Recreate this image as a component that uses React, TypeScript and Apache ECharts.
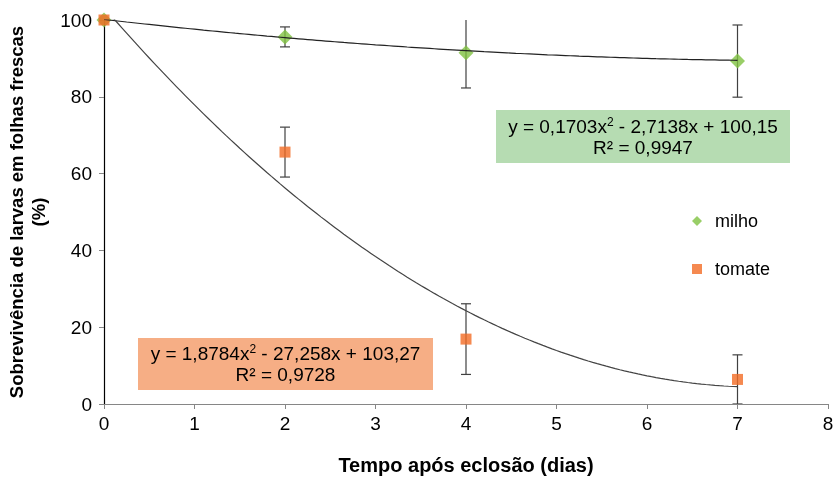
import React, { useEffect, useRef } from "react";
import * as echarts from "echarts";

const xDays = [0, 2, 4, 7];
const milhoMean = [100, 95.6, 91.5, 89.3];
const milhoErr = [0, 2.6, 9.2, 9.4];
const tomateMean = [100, 65.6, 16.9, 6.4];
const tomateErr = [0, 6.5, 9.2, 6.4];
// regression coefficients as printed in the chart: a*x^2 + b*x + c
const milhoCoef = [0.1703, -2.7138, 100.15];
const tomateCoef = [1.8784, -27.258, 103.27];
const xTicks = [0, 1, 2, 3, 4, 5, 6, 7, 8];
const yTicks = [0, 20, 40, 60, 80, 100];

const FONT = "Liberation Sans, Arial, sans-serif";

function trend(coef: number[]) {
  const pts: number[][] = [];
  for (let i = 0; i <= 140; i++) {
    const x = (i * 7) / 140;
    pts.push([x, coef[0] * x * x + coef[1] * x + coef[2]]);
  }
  return pts;
}

function errorSeries(name: string, mean: number[], err: number[]) {
  return {
    name,
    type: "custom",
    clip: true,
    z: 1,
    data: xDays.map((x, i) => [x, mean[i] - err[i], mean[i] + err[i]]),
    renderItem: (params: any, api: any) => {
      const x = api.value(0);
      const lo = api.coord([x, api.value(1)]);
      const hi = api.coord([x, api.value(2)]);
      if (api.value(2) - api.value(1) === 0) return { type: "group", children: [] };
      const w = 5;
      const style = { stroke: "#404040", lineWidth: 1.2 };
      return {
        type: "group",
        children: [
          { type: "line", shape: { x1: lo[0], y1: lo[1], x2: hi[0], y2: hi[1] }, style },
          { type: "line", shape: { x1: lo[0] - w, y1: lo[1], x2: lo[0] + w, y2: lo[1] }, style },
          { type: "line", shape: { x1: hi[0] - w, y1: hi[1], x2: hi[0] + w, y2: hi[1] }, style },
        ],
      };
    },
  };
}

export default function App() {
  const ref = useRef<HTMLDivElement>(null);
  useEffect(() => {
    if (!ref.current) return;
    const chart = echarts.init(ref.current, undefined, { renderer: "svg" });
    const rich = {
      a: { fontSize: 19, fontFamily: FONT, color: "#1a1a1a", lineHeight: 21 },
      s: { fontSize: 12, fontFamily: FONT, color: "#1a1a1a", lineHeight: 21, verticalAlign: "top" },
    };
    chart.setOption({
      animation: false,
      textStyle: { fontFamily: FONT },
      grid: { left: 104, right: 5, top: 20, bottom: 73, containLabel: false, outerBoundsMode: "none" },
      xAxis: {
        type: "value",
        min: 0,
        max: 8,
        interval: 1,
        name: "Tempo após eclosão (dias)",
        nameLocation: "middle",
        nameGap: 51,
        nameTextStyle: { fontSize: 20, lineHeight: 20, fontWeight: "bold", color: "#000", fontFamily: FONT },
        axisLine: { lineStyle: { color: "#868686", width: 1.2 } },
        axisTick: { show: true, length: 5, lineStyle: { color: "#868686" } },
        axisLabel: {
          fontSize: 19,
          color: "#000",
          margin: 10,
          fontFamily: FONT,
          formatter: (v: number) => (xTicks.includes(v) ? String(v) : ""),
        },
        splitLine: { show: false },
      },
      yAxis: {
        type: "value",
        min: 0,
        max: 100,
        interval: 20,
        name: "Sobrevivência de larvas em folhas frescas\n(%)",
        nameLocation: "middle",
        nameGap: 55,
        nameTextStyle: { fontSize: 18.5, fontWeight: "bold", color: "#000", fontFamily: FONT, lineHeight: 22 },
        axisLine: { show: true, lineStyle: { color: "#000", width: 1.2 } },
        axisTick: { show: true, length: 5, lineStyle: { color: "#868686" } },
        axisLabel: {
          fontSize: 19,
          color: "#000",
          margin: 12,
          fontFamily: FONT,
          formatter: (v: number) => (yTicks.includes(v) ? String(v) : ""),
        },
        splitLine: { show: false },
      },
      legend: {
        orient: "vertical",
        left: 687,
        top: 207,
        itemGap: 30,
        itemWidth: 10,
        itemHeight: 10,
        textStyle: { fontSize: 18, color: "#000", fontFamily: FONT, padding: [0, 0, 0, 8] },
        data: [
          { name: "milho", icon: "diamond" },
          { name: "tomate", icon: "rect" },
        ],
      },
      series: [
        errorSeries("milho-err", milhoMean, milhoErr),
        errorSeries("tomate-err", tomateMean, tomateErr),
        {
          name: "milho",
          type: "scatter",
          symbol: "diamond",
          symbolSize: 15,
          z: 3,
          itemStyle: { color: "#7fc241" },
          data: xDays.map((x, i) => [x, milhoMean[i]]),
        },
        {
          name: "tomate",
          type: "scatter",
          symbol: "rect",
          symbolSize: 11,
          z: 4,
          itemStyle: { color: "#f26b24" },
          data: xDays.map((x, i) => [x, tomateMean[i]]),
        },
        {
          name: "milho-trend",
          type: "line",
          showSymbol: false,
          symbol: "none",
          clip: true,
          z: 5,
          lineStyle: { color: "#222", width: 1.2 },
          data: trend(milhoCoef),
        },
        {
          name: "tomate-trend",
          type: "line",
          showSymbol: false,
          symbol: "none",
          clip: true,
          z: 5,
          lineStyle: { color: "#444", width: 1.2 },
          data: trend(tomateCoef),
        },
      ],
      graphic: [
        {
          type: "group",
          left: 496,
          top: 110,
          children: [
            { type: "rect", shape: { x: 0, y: 0, width: 294, height: 53 }, style: { fill: "#b6dcb2" } },
            {
              type: "text",
              x: 147,
              y: 6,
              style: {
                text: "{a|y = 0,1703x}{s|2}{a| - 2,7138x + 100,15}\n{a|R² = 0,9947}",
                rich,
                align: "center",
                verticalAlign: "top",
              },
            },
          ],
        },
        {
          type: "group",
          left: 138,
          top: 338,
          children: [
            { type: "rect", shape: { x: 0, y: 0, width: 295, height: 52 }, style: { fill: "#f6ae85" } },
            {
              type: "text",
              x: 147.5,
              y: 5,
              style: {
                text: "{a|y = 1,8784x}{s|2}{a| - 27,258x + 103,27}\n{a|R² = 0,9728}",
                rich,
                align: "center",
                verticalAlign: "top",
              },
            },
          ],
        },
      ],
    });
    return () => chart.dispose();
  }, []);
  return (
    <div
      ref={ref}
      style={{ position: "fixed", left: 0, top: 0, width: 833, height: 477 }}
    />
  );
}
